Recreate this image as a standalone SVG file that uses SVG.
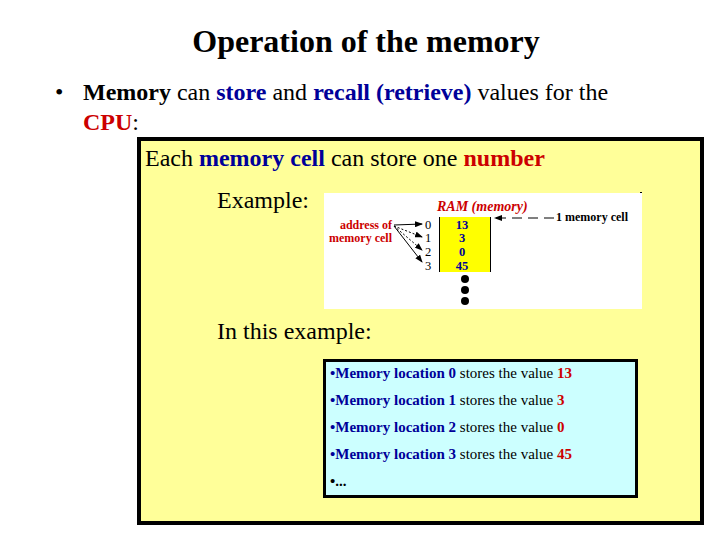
<svg xmlns="http://www.w3.org/2000/svg" width="720" height="540" viewBox="0 0 720 540" font-family="'Liberation Serif', 'DejaVu Serif', serif">
<defs>
<style>
.b{font-weight:bold}
.bl{fill:#000099}
.rd{fill:#cc0000}
.t1{font-size:24px}
.t2{font-size:24px}
.t3{font-size:15px}
.s{font-size:12.5px;font-weight:bold}
.a{font-size:12px;font-weight:bold}
.ln{stroke:#000;stroke-width:1;fill:none}
</style>
<marker id="ah" markerWidth="8" markerHeight="6" refX="7" refY="3" orient="auto" markerUnits="userSpaceOnUse">
<path d="M0,0 L8,3 L0,6 z" fill="#000"/>
</marker>
</defs>
<rect width="720" height="540" fill="#fff"/>
<g id="title">
<text x="366" y="52" text-anchor="middle" class="b" font-size="32">Operation of the memory</text>
</g>
<g id="bullet">
<text x="55" y="100" class="t1">•</text>
<text x="83" y="100" class="t1"><tspan class="b">Memory</tspan> can <tspan class="b bl">store</tspan> and <tspan class="b bl">recall (retrieve)</tspan> values for the</text>
<text x="83" y="130" class="t1"><tspan class="b rd">CPU</tspan>:</text>
</g>
<g id="panel">
<rect x="139" y="139" width="563" height="384" fill="#ffff99" stroke="#000" stroke-width="4"/>
<text x="145" y="166" class="t2">Each <tspan class="b bl">memory cell</tspan> can store one <tspan class="b rd">number</tspan></text>
<text x="217" y="208" class="t2">Example:</text>
<text x="217" y="339" class="t2">In this example:</text>
</g>
<g id="ram">
<rect x="324" y="193" width="318" height="116" fill="#fff"/>
<text x="437" y="211" class="rd b" font-size="14" font-style="italic">RAM (memory)</text>
<rect x="439" y="217" width="52" height="55" fill="#ffff00"/>
<line x1="439.5" y1="217" x2="439.5" y2="272" class="ln"/>
<line x1="490.5" y1="217" x2="490.5" y2="272" class="ln"/>
<text x="462" y="229" text-anchor="middle" class="s bl">13</text>
<text x="462" y="242" text-anchor="middle" class="s bl">3</text>
<text x="462" y="256" text-anchor="middle" class="s bl">0</text>
<text x="462" y="270" text-anchor="middle" class="s bl">45</text>
<text x="428" y="229" text-anchor="middle" font-size="12.5">0</text>
<text x="428" y="242" text-anchor="middle" font-size="12.5">1</text>
<text x="428" y="256" text-anchor="middle" font-size="12.5">2</text>
<text x="428" y="270" text-anchor="middle" font-size="12.5">3</text>
<text x="392" y="229" text-anchor="end" class="a rd">address of</text>
<text x="392" y="242" text-anchor="end" class="a rd">memory cell</text>
<text x="556" y="221" font-size="12" font-weight="bold">1 memory cell</text>
<circle cx="465" cy="279" r="4" fill="#000"/>
<circle cx="465" cy="290" r="4" fill="#000"/>
<circle cx="465" cy="301" r="4" fill="#000"/>
<rect x="640" y="192" width="2" height="1" fill="#000"/>
</g>
<g id="connectors">
<line x1="394" y1="225" x2="422" y2="224" class="ln" marker-end="url(#ah)"/>
<line x1="394" y1="226" x2="422" y2="237" class="ln" stroke-dasharray="2,2" marker-end="url(#ah)"/>
<line x1="394" y1="226" x2="422" y2="250" class="ln" stroke-dasharray="2,2" marker-end="url(#ah)"/>
<line x1="394" y1="226" x2="422" y2="262" class="ln" marker-end="url(#ah)"/>
<line x1="554" y1="218" x2="495" y2="218" class="ln" stroke-dasharray="10,6" marker-end="url(#ah)"/>
</g>
<g id="list">
<rect x="324.5" y="360.5" width="312" height="136" fill="#ccffff" stroke="#000" stroke-width="3"/>
<text x="330" y="378" class="t3"><tspan class="b bl">•Memory location 0</tspan> stores the value <tspan class="b rd">13</tspan></text>
<text x="330" y="405" class="t3"><tspan class="b bl">•Memory location 1</tspan> stores the value <tspan class="b rd">3</tspan></text>
<text x="330" y="432" class="t3"><tspan class="b bl">•Memory location 2</tspan> stores the value <tspan class="b rd">0</tspan></text>
<text x="330" y="459" class="t3"><tspan class="b bl">•Memory location 3</tspan> stores the value <tspan class="b rd">45</tspan></text>
<text x="330" y="486" class="t3 b">•...</text>
</g>
</svg>
